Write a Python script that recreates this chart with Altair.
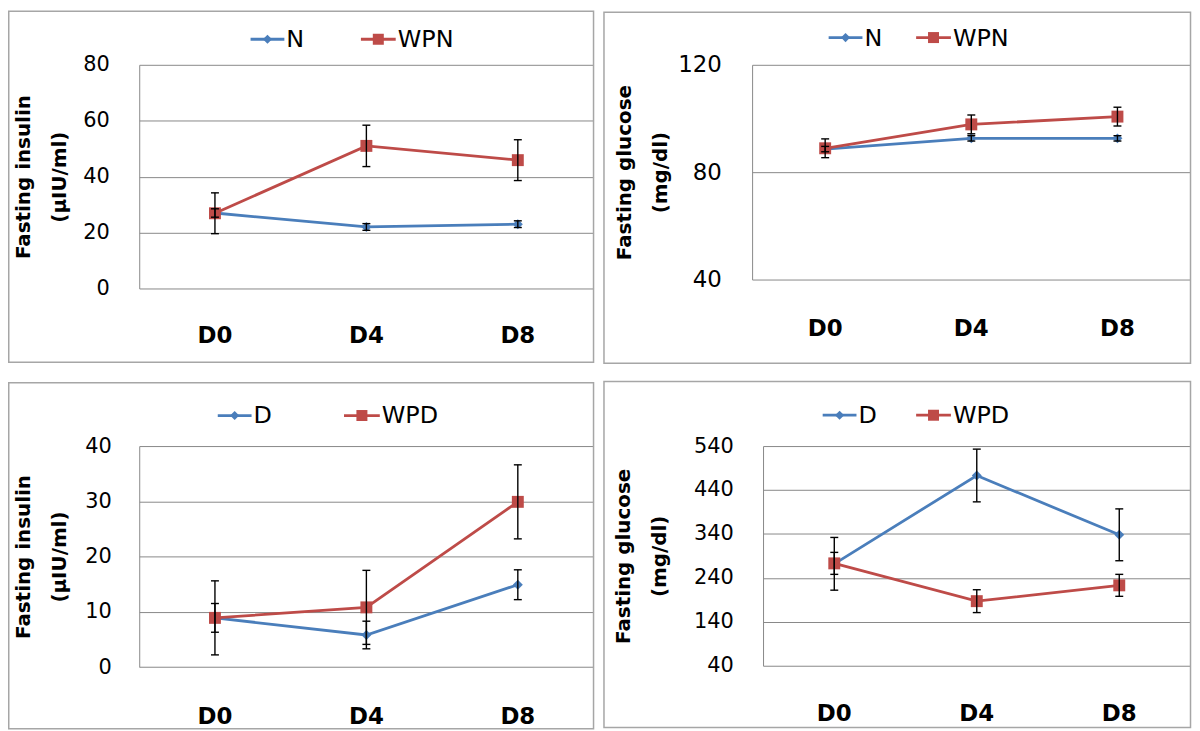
import altair as alt
import pandas as pd

# ---------------- data ----------------
days = ["D0", "D4", "D8"]

# top-left: fasting insulin, normal groups
ins_norm_series = ["N", "WPN"]
ins_norm_N = [27.0, 22.0, 23.0]
ins_norm_N_err = [1.5, 1.2, 1.2]
ins_norm_WPN = [26.9, 51.0, 45.9]
ins_norm_WPN_err = [7.3, 7.4, 7.3]

# top-right: fasting glucose, normal groups
glu_norm_series = ["N", "WPN"]
glu_norm_N = [88.6, 92.6, 92.6]
glu_norm_N_err = [1.0, 1.0, 1.0]
glu_norm_WPN = [88.9, 97.8, 100.7]
glu_norm_WPN_err = [3.5, 3.5, 3.5]

# bottom-left: fasting insulin, diabetic groups
ins_diab_series = ["D", "WPD"]
ins_diab_D = [8.9, 5.8, 14.9]
ins_diab_D_err = [2.6, 2.5, 2.7]
ins_diab_WPD = [8.9, 10.8, 29.9]
ins_diab_WPD_err = [6.7, 6.7, 6.7]

# bottom-right: fasting glucose, diabetic groups
glu_diab_series = ["D", "WPD"]
glu_diab_D = [272.0, 473.0, 338.0]
glu_diab_D_err = [60.0, 60.0, 59.0]
glu_diab_WPD = [273.0, 187.0, 223.0]
glu_diab_WPD_err = [25.0, 26.0, 25.0]

ins_title = ["Fasting insulin", "(µIU/ml)"]
glu_title = ["Fasting glucose", "(mg/dl)"]

ins_norm_ticks = [0, 20, 40, 60, 80]
glu_norm_ticks = [40, 80, 120]
ins_diab_ticks = [0, 10, 20, 30, 40]
glu_diab_ticks = [40, 140, 240, 340, 440, 540]

# ---------------- styling ----------------
BLUE = "#4A7EBB"
RED = "#BE4B48"
GRID = "#888888"
BORDER = "#A6A6A6"
FONT = "DejaVu Sans"
SHAPES = ["diamond", "square"]
SIZES = [100, 144]

# page-pixel geometry of each panel (legend: symbol start/end x of each entry, centre y)
G1 = dict(plot=(140, 62.7, 597, 287.7), border=(8.75, 8.75, 597, 362),
          tick_fs=21, label_right=110, title_x=15, xcap=325.7,
          leg=[(252, 286), (363, 398)], leg_cy=37)
G2 = dict(plot=(756, 61.7, 1197, 277.7), border=(607, 8.75, 1197, 362),
          tick_fs=23, label_right=725, title_x=619, xcap=317,
          leg=[(833, 867), (921, 956)], leg_cy=34.3)
G3 = dict(plot=(140, 442.7, 597, 665), border=(8.75, 379, 597, 727),
          tick_fs=21, label_right=112, title_x=15.5, xcap=705,
          leg=[(219, 253), (346, 382)], leg_cy=412)
G4 = dict(plot=(767, 444, 1197, 665), border=(607, 379, 1197, 727),
          tick_fs=21, label_right=737, title_x=618, xcap=703,
          leg=[(827, 861), (921, 956)], leg_cy=413)


def panel(series, values, errors, title_lines, domain, tick_values, g):
    recs = []
    for s, vals, errs in zip(series, values, errors):
        for d, v, e in zip(days, vals, errs):
            recs.append(dict(day=d, series=s, value=v, lo=v - e, hi=v + e))
    df = pd.DataFrame(recs)
    names = pd.DataFrame({"series": series})

    px0, py0, px1, py1 = g["plot"]
    bx0, by0, bx1, by1 = g["border"]
    w, h = px1 - px0, py1 - py0

    xenc = alt.X(
        "day:N", sort=days, scale=alt.Scale(domain=days),
        axis=alt.Axis(title=None, labelAngle=0, labelFont=FONT, labelFontSize=23,
                      labelFontWeight="bold", labelColor="black",
                      labelPadding=g["xcap"] - py1 - 1.2, ticks=False, tickSize=0,
                      domain=False, grid=False))
    yscale = alt.Scale(domain=domain, nice=False, zero=False)
    yaxis = alt.Axis(
        title=title_lines, titleFont=FONT, titleFontSize=20, titleFontWeight="bold",
        titleColor="black", titleAngle=270, titleBaseline="top",
        titleX=g["title_x"] - 1.4 - px0, titleLineHeight=36,
        values=tick_values, labelFont=FONT, labelFontSize=g["tick_fs"],
        labelColor="black", labelPadding=px0 - g["label_right"],
        ticks=False, tickSize=0, domain=True, domainColor=GRID, domainWidth=1,
        grid=True, gridColor=GRID, gridWidth=1)
    cscale = alt.Scale(domain=series, range=[BLUE, RED])
    color = alt.Color("series:N", scale=cscale, legend=None)

    base = alt.Chart(df)
    layers = []
    layers.append(alt.Chart(pd.DataFrame({"k": [0]})).mark_rect(
        fill="transparent", stroke=BORDER, strokeWidth=1.5).encode(
        x=alt.value(bx0 - px0), x2=alt.value(bx1 - px0),
        y=alt.value(by0 - py0), y2=alt.value(by1 - py0)))
    layers.append(base.mark_line(strokeWidth=2.8).encode(
        x=xenc, y=alt.Y("value:Q", scale=yscale, axis=yaxis), color=color))
    for s, shp, sz in zip(series, SHAPES, SIZES):
        layers.append(base.transform_filter(alt.datum.series == s).mark_point(
            filled=True, opacity=1, strokeWidth=0, shape=shp, size=sz).encode(
            x=xenc, y=alt.Y("value:Q", scale=yscale, axis=yaxis), color=color))
    # error bars drawn over the markers, as in the reference
    layers.append(base.mark_rule(color="black", strokeWidth=1.4).encode(
        x=xenc, y=alt.Y("lo:Q", scale=yscale, axis=yaxis), y2="hi:Q"))
    layers.append(base.transform_fold(["lo", "hi"], as_=["which", "cap"]).mark_tick(
        color="black", size=8, thickness=1.4, opacity=1).encode(
        x=xenc, y=alt.Y("cap:Q", scale=yscale, axis=yaxis)))

    # legend: line + marker + name for each series, above the plot
    cy = g["leg_cy"] - py0
    for s, shp, sz, (lx0, lx1) in zip(series, SHAPES, SIZES, g["leg"]):
        nd = alt.Chart(names).transform_filter(alt.datum.series == s)
        layers.append(nd.mark_rule(strokeWidth=2.8).encode(
            x=alt.value(lx0 - px0), x2=alt.value(lx1 - px0), y=alt.value(cy), color=color))
        layers.append(nd.mark_point(filled=True, opacity=1, strokeWidth=0, shape=shp,
                                    size=sz * 0.85).encode(
            x=alt.value((lx0 + lx1) / 2 - px0), y=alt.value(cy), color=color))
        layers.append(nd.mark_text(align="left", baseline="middle", font=FONT,
                                   fontSize=24, color="black", dy=1).encode(
            x=alt.value(lx1 + 2 - px0), y=alt.value(cy), text="series:N"))
    return alt.layer(*layers).properties(width=w, height=h)


p1 = panel(ins_norm_series, [ins_norm_N, ins_norm_WPN], [ins_norm_N_err, ins_norm_WPN_err],
           ins_title, [0, 80], ins_norm_ticks, G1)
p2 = panel(glu_norm_series, [glu_norm_N, glu_norm_WPN], [glu_norm_N_err, glu_norm_WPN_err],
           glu_title, [40, 120], glu_norm_ticks, G2)
p3 = panel(ins_diab_series, [ins_diab_D, ins_diab_WPD], [ins_diab_D_err, ins_diab_WPD_err],
           ins_title, [0, 40], ins_diab_ticks, G3)
p4 = panel(glu_diab_series, [glu_diab_D, glu_diab_WPD], [glu_diab_D_err, glu_diab_WPD_err],
           glu_title, [40, 540], glu_diab_ticks, G4)


def indep(c):
    return c.resolve_scale(x="independent", y="independent", color="independent")


row1 = indep(alt.hconcat(p1, p2, spacing=8.5))
row2 = indep(alt.hconcat(p3, p4, spacing=8.5))
chart = indep(alt.vconcat(row1, row2, spacing=15.5)).properties(
    padding=0, background="white").configure_view(strokeWidth=0)

chart.save("out.html", embed_options={"renderer": "svg", "actions": False})
